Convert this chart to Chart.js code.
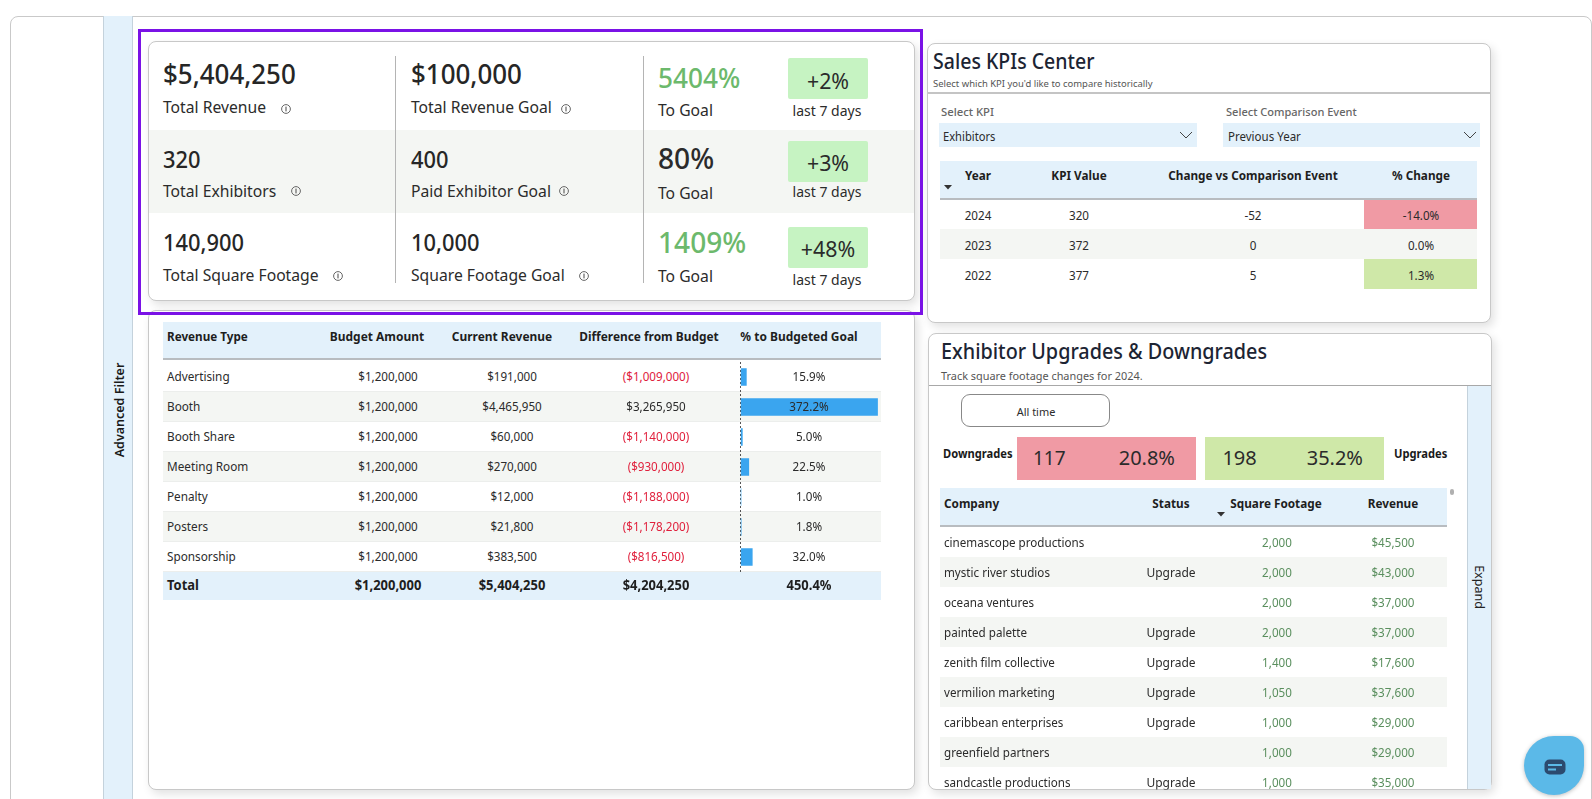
<!DOCTYPE html>
<html><head><meta charset="utf-8">
<script src="https://cdn.jsdelivr.net/npm/chart.js@4"></script>
<style>
html,body{margin:0;padding:0;background:#fff;overflow:hidden}
#stage{position:relative;width:1592px;height:799px;overflow:hidden;font-family:"Noto Sans",sans-serif;color:#252525}
#stage div,#stage span,#stage canvas,#stage svg{position:absolute;box-sizing:border-box}
.t{white-space:nowrap;line-height:1}
</style></head><body><div id="stage"></div>
<script>
// ---------- data ----------
const kpiValues = ["$5,404,250","320","140,900"];
const kpiLabels = ["Total Revenue","Total Exhibitors","Total Square Footage"];
const goalValues = ["$100,000","400","10,000"];
const goalLabels = ["Total Revenue Goal","Paid Exhibitor Goal","Square Footage Goal"];
const toGoal = ["5404%","80%","1409%"];
const last7 = ["+2%","+3%","+48%"];

const revenueTypes = ["Advertising","Booth","Booth Share","Meeting Room","Penalty","Posters","Sponsorship"];
const budgetAmounts = ["$1,200,000","$1,200,000","$1,200,000","$1,200,000","$1,200,000","$1,200,000","$1,200,000"];
const currentRevenue = ["$191,000","$4,465,950","$60,000","$270,000","$12,000","$21,800","$383,500"];
const budgetDiffs = ["($1,009,000)","$3,265,950","($1,140,000)","($930,000)","($1,188,000)","($1,178,200)","($816,500)"];
const pctToGoal = [15.9,372.2,5.0,22.5,1.0,1.8,32.0];
const revenueHeaders = ["Revenue Type","Budget Amount","Current Revenue","Difference from Budget","% to Budgeted Goal"];
const revenueTotals = ["Total","$1,200,000","$5,404,250","$4,204,250","450.4%"];

const kpiHeaders = ["Year","KPI Value","Change vs Comparison Event","% Change"];
const kpiYears = ["2024","2023","2022"];
const kpiVals = ["320","372","377"];
const kpiChange = ["-52","0","5"];
const kpiPct = ["-14.0%","0.0%","1.3%"];

const companyHeaders = ["Company","Status","Square Footage","Revenue"];
const companies = ["cinemascope productions","mystic river studios","oceana ventures","painted palette","zenith film collective","vermilion marketing","caribbean enterprises","greenfield partners","sandcastle productions"];
const statuses = ["","Upgrade","","Upgrade","Upgrade","Upgrade","Upgrade","","Upgrade"];
const sqFootage = ["2,000","2,000","2,000","2,000","1,400","1,050","1,000","1,000","1,000"];
const companyRevenue = ["$45,500","$43,000","$37,000","$37,000","$17,600","$37,600","$29,000","$29,000","$35,000"];

// ---------- drawing helpers ----------
const stage = document.getElementById('stage');
const HEAD='#e3f1fb', BAND='#f4f6f3', RED='#f09aa4', GREEN='#cfe8a8';
const clip = document.createElement('div');
let parent = stage;
function box(x,y,w,h,css){
  const d=document.createElement('div');
  d.style.cssText=`left:${x}px;top:${y}px;width:${w}px;height:${h}px;`+(css||'');
  parent.appendChild(d);return d;
}
function T(x,cy,s,o){
  o=o||{};
  const d=document.createElement('div');d.className='t';d.textContent=s;
  const a=o.a||'l',k=o.k||0.96;
  const tx=a==='c'?'-50%':a==='r'?'-100%':'0';
  d.style.left=x+'px';d.style.top=cy+'px';
  d.style.fontSize=(o.s||12)+'px';
  d.style.fontWeight=o.w||400;
  d.style.color=o.c||'#2b2b2b';
  d.style.transformOrigin=a==='c'?'center':a==='r'?'right':'left';
  d.style.transform=`translate(${tx},-50%) scaleX(${k})`+(o.rot?` rotate(${o.rot}deg)`:'');
  parent.appendChild(d);return d;
}
function svg(x,y,w,h,inner){
  const n=document.createElement('div');
  n.style.cssText=`left:${x}px;top:${y}px;width:${w}px;height:${h}px`;
  n.innerHTML=`<svg xmlns="http://www.w3.org/2000/svg" width="${w}" height="${h}" viewBox="0 0 ${w} ${h}" style="left:0;top:0">${inner}</svg>`;
  parent.appendChild(n);
}
function info(cx,cy){svg(cx-6,cy-6,12,12,'<circle cx="6" cy="6" r="4.4" fill="none" stroke="#666" stroke-width="1"/><rect x="5.4" y="3.6" width="1.2" height="4.8" fill="#666"/>');}
function chevron(cx,cy){svg(cx-7,cy-4,14,8,'<polyline points="1,1 7,7 13,1" fill="none" stroke="#444" stroke-width="1"/>');}
function sortArrow(cx,cy){svg(cx-5,cy-3,10,6,'<polygon points="1,1 9,1 5,5.5" fill="#333"/>');}

// ---------- page frame ----------
box(9.5,15.5,1582.5,900,'border:1px solid #c9c9c9;border-radius:8px;background:#fff');
box(103,16,30,790,`background:${HEAD};border-left:1px solid #c4d2dc;border-right:1px solid #c4d2dc`);
T(120,410,"Advanced Filter",{a:'c',s:12.5,w:600,c:'#1a1a1a',rot:-90,k:1});

// ---------- cards ----------
const CARD='background:#fff;border:1px solid #c8c8c8;border-radius:8px;box-shadow:3px 4px 10px rgba(0,0,0,.12)';
box(147.5,310,767.5,479.5,CARD);
box(147.5,41,767.5,259.5,CARD);
box(927,42.5,563.5,280,CARD);
box(927.5,332.5,564.5,457,CARD);

// ---------- KPI block ----------
box(148.5,130,765.5,82.5,`background:${BAND}`);
box(394.5,56,1,227,'background:#b4b4b4');
box(643.3,56,1,227,'background:#b4b4b4');
const kpiCy=[73,160,243], kpiLabelCy=[107,191,275];
const kpiSize=[27,23.5,23.5], kpiK=[.96,.93,.93];
const infoX=[286,296,338], goalInfoX=[566,564,584], infoY=[109,191,275.5];
const toCy=[77,157,241], toLblCy=[110,193,276], toColor=['#6cb96c','#2b2b2b','#6cb96c'], toSize=[27,29,29];
const deltaBox=[58,141,227], deltaCy=[80,162,248], lastCy=[110,191,279];
kpiValues.forEach((v,i)=>{
  T(163,kpiCy[i],v,{s:kpiSize[i],w:500,c:'#262626',k:kpiK[i]});
  T(163,kpiLabelCy[i],kpiLabels[i],{s:16,k:.98});
  info(infoX[i],infoY[i]);
  T(411,kpiCy[i],goalValues[i],{s:kpiSize[i],w:500,c:'#262626',k:kpiK[i]});
  T(411,kpiLabelCy[i],goalLabels[i],{s:16,k:.98});
  info(goalInfoX[i],infoY[i]);
  T(658,toCy[i],toGoal[i],{s:toSize[i],w:500,c:toColor[i],k:.97});
  T(658,toLblCy[i],"To Goal",{s:16,k:.98});
  box(788,deltaBox[i],80,41,'background:#c6f3c2;border-radius:2px');
  T(828,deltaCy[i],last7[i],{a:'c',s:22,k:.97});
  T(826.5,lastCy[i],"last 7 days",{a:'c',s:14.5,k:.965});
});

// ---------- revenue table ----------
const rL=163,rR=881,rH=322,rHB=360,rRow=30;
box(rL,rH,rR-rL,rHB-rH,`background:${HEAD};border-bottom:2px solid #b8bcc0`);
const rHdrX=[167,377,501.5,649,799],rHdrA=['l','c','c','c','c'],rHdrK=[.935,.955,.955,.95,.955];
revenueHeaders.forEach((h,i)=>T(rHdrX[i],337,h,{a:rHdrA[i],s:12.5,w:700,c:'#1e1e1e',k:rHdrK[i]}));
revenueTypes.forEach((r,i)=>{
  const top=rHB+1.7+i*rRow;
  if(i%2) box(rL,top,rR-rL,rRow,`background:${BAND}`);
  box(rL,top+rRow-1,rR-rL,1,'background:#eceeec');
});
// bars through Chart.js, on a canvas that sits over the last column
const barHost=document.createElement('canvas');
barHost.width=145;barHost.height=210;
barHost.style.cssText='left:738px;top:361.7px;width:145px;height:210px';
stage.appendChild(barHost);
new Chart(barHost,{
  type:'bar',
  data:{labels:revenueTypes,datasets:[{data:pctToGoal,backgroundColor:'#3aa5ef',borderWidth:0,barThickness:17}]},
  options:{
    indexAxis:'y',responsive:false,animation:false,
    layout:{padding:{left:2.5,right:0,top:0,bottom:0}},
    plugins:{legend:{display:false},tooltip:{enabled:false}},
    scales:{
      x:{display:true,min:0,max:387,ticks:{display:false,stepSize:387},
         grid:{drawTicks:false,lineWidth:1,color:c=>c.tick&&c.tick.value===0?'#555':'rgba(0,0,0,0)'},
         border:{display:false,dash:[2,2]},
         afterFit(s){s.height=0;}},
      y:{display:false}
    }
  }
});
revenueTypes.forEach((r,i)=>{
  const cy=376.7+i*rRow;
  T(167,cy,r,{s:12.5,k:.94});
  T(388,cy,budgetAmounts[i],{a:'c',s:12,k:.97});
  T(512,cy,currentRevenue[i],{a:'c',s:12,k:.97});
  T(656,cy,budgetDiffs[i],{a:'c',s:12,k:.97,c:budgetDiffs[i][0]==='('?'#e0203c':'#2b2b2b'});
  T(809,cy,pctToGoal[i].toFixed(1)+'%',{a:'c',s:12,k:.97});
});
box(rL,571.5,rR-rL,28,`background:${HEAD}`);
const rTotX=[167,388,512,656,809];
revenueTotals.forEach((v,i)=>T(rTotX[i],586,v,{a:i?'c':'l',s:13.5,w:700,c:'#1e1e1e',k:.96}));

// ---------- purple selection ----------
box(138,29,785,285.5,'border:3px solid #7a12e6');

// ---------- Sales KPI card ----------
T(933,60.7,"Sales KPIs Center",{s:21,w:500,c:'#1c2433',k:.93});
T(933,83.7,"Select which KPI you'd like to compare historically",{s:9.5,c:'#555',k:.995});
box(927.5,92,562,2,'background:#c4c4c4');
T(941,111.7,"Select KPI",{s:11.5,w:500,c:'#666',k:.98});
T(1225.7,111.7,"Select Comparison Event",{s:11.5,w:500,c:'#666',k:.96});
box(939,123,257.5,24,`background:${HEAD}`);
box(1223,123,257,24,`background:${HEAD}`);
T(943,136.5,"Exhibitors",{s:12,k:.93});
T(1227.6,136.5,"Previous Year",{s:12,k:.96});
chevron(1186,134.7);chevron(1470,134.7);
const kL=940,kR=1476.6;
box(kL,161,kR-kL,38.5,`background:${HEAD};border-bottom:2px solid #b8bcc0`);
const kX=[978,1079,1253,1420.7];
kpiHeaders.forEach((h,i)=>T(kX[i],176.3,h,{a:'c',s:12.5,w:700,c:'#1e1e1e',k:.94}));
sortArrow(948,187);
box(kL,229.3,kR-kL,30,`background:${BAND}`);
box(1364,199.5,kR-1364,29.8,`background:${RED}`);
box(1364,259.3,kR-1364,30,`background:${GREEN}`);
kpiYears.forEach((y,i)=>{
  const cy=215.8+i*30;
  T(kX[0],cy,y,{a:'c',s:12,k:.97});
  T(kX[1],cy,kpiVals[i],{a:'c',s:12,k:.97});
  T(kX[2],cy,kpiChange[i],{a:'c',s:12,k:.97});
  T(kX[3],cy,kpiPct[i],{a:'c',s:12,k:.97});
});

// ---------- Upgrades card ----------
T(941,350.7,"Exhibitor Upgrades & Downgrades",{s:21.5,w:500,c:'#1c2433',k:.92});
T(941,375,"Track square footage changes for 2024.",{s:11,c:'#555',k:.99});
box(928.5,385,562,1,'background:#a8a8a8');
box(1467.3,386,24,403,`background:${HEAD};border-left:1px solid #c4d2dc`);
T(1478.5,587,"Expand",{a:'c',s:12.5,c:'#222',rot:90,k:1});
box(961.2,394,149,32.7,'border:1px solid #888;border-radius:9px;background:#fff');
T(1036,412,"All time",{a:'c',s:11.5,k:.95});
T(942.7,454,"Downgrades",{s:11.5,w:700,c:'#1a1a1a',k:.97});
T(1393.7,454,"Upgrades",{s:11.5,w:700,c:'#1a1a1a',k:.97});
box(1017,437,179,43,`background:${RED}`);
box(1205,437,179,43,`background:${GREEN}`);
T(1032.6,458,"117",{s:20,k:.95});
T(1175,458,"20.8%",{a:'r',s:20,k:1});
T(1222.4,458,"198",{s:20,k:1});
T(1363,458,"35.2%",{a:'r',s:20,k:1});
const cL=940,cR=1447;
box(cL,488,cR-cL,39,`background:${HEAD};border-bottom:2px solid #b8bcc0`);
const cHdrX=[943.5,1171,1276,1393],cHdrA=['l','c','c','c'];
companyHeaders.forEach((h,i)=>T(cHdrX[i],503.7,h,{a:cHdrA[i],s:12.5,w:700,c:'#1e1e1e',k:.94}));
sortArrow(1221,514);
box(1449.5,488.5,4,6,'background:#b0b0b0;border-radius:2px');

// rows clipped to the bottom of the card
clip.style.cssText='left:0;top:0;width:1592px;height:799px;clip-path:inset(0 0 9.5px 0)';
stage.appendChild(clip);
parent=clip;
companies.forEach((c,i)=>{
  const cy=542.7+i*30, top=cy-15.3;
  if(i%2) box(cL,top,cR-cL,30,`background:${BAND}`);
  T(943.6,cy,c,{s:12.5,k:.93});
  if(statuses[i]) T(1171,cy,statuses[i],{a:'c',s:12.5,k:.96});
  T(1276.6,cy,sqFootage[i],{a:'c',s:12,c:'#5a8f5e',k:.97});
  T(1392.7,cy,companyRevenue[i],{a:'c',s:12,c:'#5a8f5e',k:.97});
});
parent=stage;

// ---------- chat bubble ----------
box(1524,736,60,59,'background:#5bb9e8;border-radius:50% 14px 50% 50%;box-shadow:0 1px 4px rgba(0,0,0,.25)');
svg(1544,759,22,16,'<rect x="0.5" y="0.5" width="21" height="15" rx="5" fill="#2c4a6e"/><rect x="4" y="5" width="14" height="2" fill="#5bb9e8"/><rect x="4" y="9.5" width="8" height="2" fill="#5bb9e8"/>');
</script></body></html>
